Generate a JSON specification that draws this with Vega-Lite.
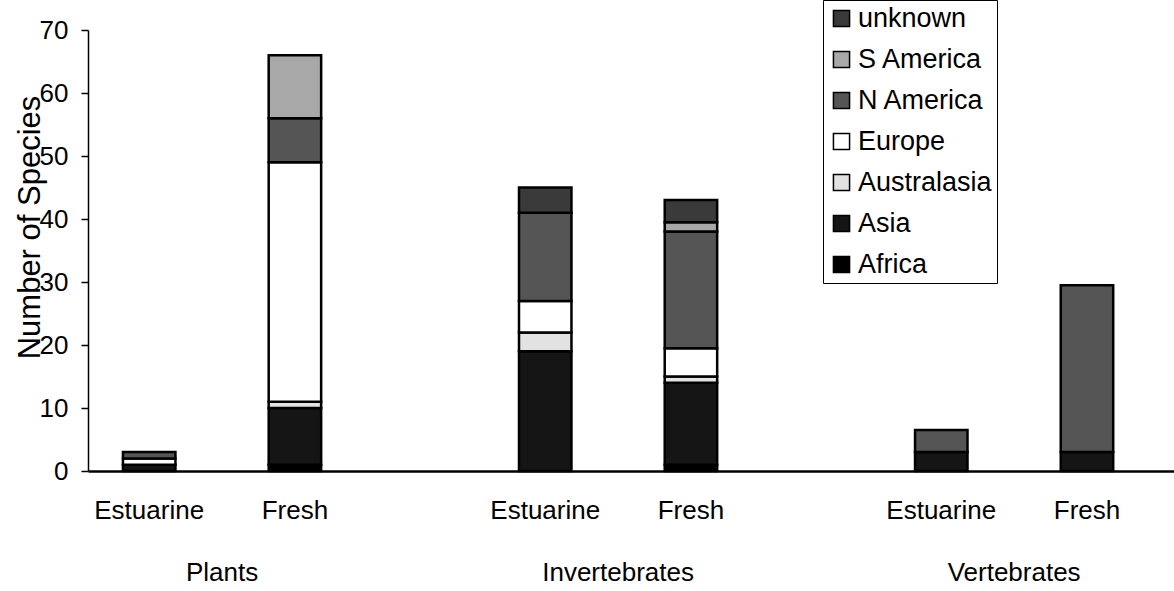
{
  "$schema": "https://vega.github.io/schema/vega-lite/v6.json",
  "autosize": "none",
  "width": 1086,
  "height": 441,
  "padding": {"left": 88, "top": 30, "right": 0, "bottom": 120},
  "background": "white",
  "config": {
    "font": "Liberation Sans",
    "view": {"stroke": null}
  },
  "data": {
    "values": [
      {"group": "Plants", "habitat": "Estuarine", "region": "Asia", "n": 1},
      {"group": "Plants", "habitat": "Estuarine", "region": "Europe", "n": 1},
      {"group": "Plants", "habitat": "Estuarine", "region": "N America", "n": 1},
      {"group": "Plants", "habitat": "Fresh", "region": "Africa", "n": 1},
      {"group": "Plants", "habitat": "Fresh", "region": "Asia", "n": 9},
      {"group": "Plants", "habitat": "Fresh", "region": "Australasia", "n": 1},
      {"group": "Plants", "habitat": "Fresh", "region": "Europe", "n": 38},
      {"group": "Plants", "habitat": "Fresh", "region": "N America", "n": 7},
      {"group": "Plants", "habitat": "Fresh", "region": "S America", "n": 10},
      {"group": "Invertebrates", "habitat": "Estuarine", "region": "Asia", "n": 19},
      {"group": "Invertebrates", "habitat": "Estuarine", "region": "Australasia", "n": 3},
      {"group": "Invertebrates", "habitat": "Estuarine", "region": "Europe", "n": 5},
      {"group": "Invertebrates", "habitat": "Estuarine", "region": "N America", "n": 14},
      {"group": "Invertebrates", "habitat": "Estuarine", "region": "unknown", "n": 4},
      {"group": "Invertebrates", "habitat": "Fresh", "region": "Africa", "n": 1},
      {"group": "Invertebrates", "habitat": "Fresh", "region": "Asia", "n": 13},
      {"group": "Invertebrates", "habitat": "Fresh", "region": "Australasia", "n": 1},
      {"group": "Invertebrates", "habitat": "Fresh", "region": "Europe", "n": 4.5},
      {"group": "Invertebrates", "habitat": "Fresh", "region": "N America", "n": 18.5},
      {"group": "Invertebrates", "habitat": "Fresh", "region": "S America", "n": 1.5},
      {"group": "Invertebrates", "habitat": "Fresh", "region": "unknown", "n": 3.5},
      {"group": "Vertebrates", "habitat": "Estuarine", "region": "Asia", "n": 3},
      {"group": "Vertebrates", "habitat": "Estuarine", "region": "N America", "n": 3.5},
      {"group": "Vertebrates", "habitat": "Fresh", "region": "Asia", "n": 3},
      {"group": "Vertebrates", "habitat": "Fresh", "region": "N America", "n": 26.5}
    ]
  },
  "layer": [
    {
      "mark": {"type": "bar", "stroke": "black", "strokeWidth": 2.5},
      "encoding": {
        "x": {
          "field": "group", "type": "nominal",
          "sort": ["Plants", "Invertebrates", "Vertebrates"],
          "scale": {"paddingInner": 0.323, "paddingOuter": 0.0326, "align": 0},
          "axis": {
            "title": null, "ticks": false, "labelAngle": 0,
            "labelPadding": 88, "labelFontSize": 26, "labelColor": "black",
            "domainColor": "black", "domainWidth": 2.5
          }
        },
        "xOffset": {
          "field": "habitat", "type": "nominal",
          "scale": {"paddingInner": 0.64, "paddingOuter": 0.24}
        },
        "y": {
          "field": "n", "type": "quantitative", "aggregate": "sum", "stack": "zero",
          "scale": {"domain": [0, 70], "nice": false},
          "axis": {
            "title": "Number of Species", "titleFontSize": 31, "titleFontWeight": "normal",
            "titleColor": "black", "titleX": -58, "titleY": 197, "titleBaseline": "middle",
            "values": [0, 10, 20, 30, 40, 50, 60, 70],
            "labelFontSize": 26, "labelColor": "black", "labelPadding": 13,
            "tickColor": "black", "tickSize": 7, "tickWidth": 1.5,
            "domainColor": "black", "domainWidth": 1.5, "grid": false
          }
        },
        "color": {
          "field": "region", "type": "nominal",
          "scale": {
            "domain": ["unknown", "S America", "N America", "Europe", "Australasia", "Asia", "Africa"],
            "range": ["#3a3a3a", "#a8a8a8", "#555555", "#ffffff", "#e2e2e2", "#151515", "#000000"]
          },
          "legend": {
            "title": null, "orient": "none", "legendX": 735, "legendY": -30,
            "symbolType": "square", "symbolSize": 260, "symbolStrokeColor": "black",
            "symbolStrokeWidth": 1.5, "labelFontSize": 27, "labelColor": "black",
            "rowPadding": 13, "labelOffset": 3, "padding": 5,
            "strokeColor": "black", "fillColor": "white", "labelLimit": 300
          }
        },
        "order": {"field": "region", "type": "nominal", "sort": "ascending"}
      }
    },
    {
      "data": {
        "values": [
          {"group": "Plants", "habitat": "Estuarine"},
          {"group": "Plants", "habitat": "Fresh"},
          {"group": "Invertebrates", "habitat": "Estuarine"},
          {"group": "Invertebrates", "habitat": "Fresh"},
          {"group": "Vertebrates", "habitat": "Estuarine"},
          {"group": "Vertebrates", "habitat": "Fresh"}
        ]
      },
      "mark": {"type": "text", "fontSize": 26, "color": "black", "baseline": "middle", "align": "center"},
      "encoding": {
        "x": {"field": "group", "type": "nominal", "sort": ["Plants", "Invertebrates", "Vertebrates"]},
        "xOffset": {"field": "habitat", "type": "nominal"},
        "y": {"datum": -6.3},
        "text": {"field": "habitat", "type": "nominal"}
      }
    }
  ]
}
